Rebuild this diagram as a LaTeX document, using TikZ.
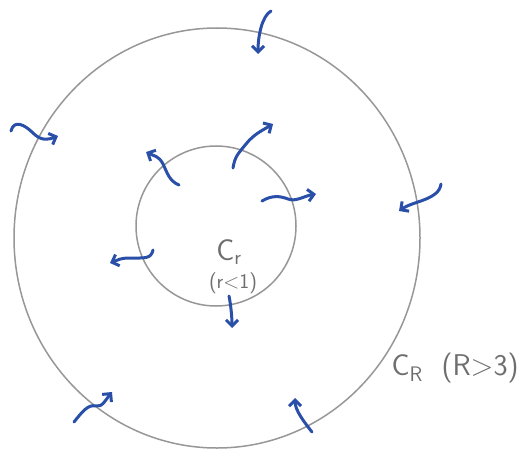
\documentclass[tikz,border=0pt]{standalone}
\usepackage{tikz}
\usepackage{xcolor}
\usetikzlibrary{arrows.meta,shapes.geometric}
\definecolor{pencil}{HTML}{979797}
\definecolor{graphite}{HTML}{6E6E6E}
\definecolor{ink}{HTML}{2A4FA8}
\tikzset{
  ring/.style={draw=pencil, line width=1.5pt, inner sep=0pt},
  flux/.style={-{Straight Barb[length=6pt,width=12pt]}, line width=3pt, draw=ink, line cap=round, line join=round},
  label/.style={font=\sffamily, text=graphite, align=center}
}
\begin{document}
\begin{tikzpicture}[x=1pt, y=-1pt]
\useasboundingbox (0,0) rectangle (526,457);
\node[ring, ellipse, minimum width=406pt, minimum height=420pt] (outer) at (217,238) {};
\node[ring, circle, minimum size=160pt] (inner) at (216,226) {};
% labels
\node[label, font=\sffamily\fontsize{30}{32}\selectfont] (cr) at (229,252) {C\textsubscript{r}};
\node[label, font=\sffamily\fontsize{21}{24}\selectfont] (crr) at (233,283) {(r<1)};
\node[label, font=\sffamily\fontsize{30}{34}\selectfont, anchor=west] (cR) at (388,368) {C\textsubscript{R}\ \ (R>3)};
% ends of the outer arrows
\coordinate (o1s) at (271,11);  \coordinate (o1e) at (258,54);
\coordinate (o2s) at (11,131);  \coordinate (o2e) at (58,136);
\coordinate (o3s) at (441,184); \coordinate (o3e) at (399,211);
\coordinate (o4s) at (74,422);  \coordinate (o4e) at (112,392);
\coordinate (o5s) at (312,432); \coordinate (o5e) at (295,398);
% ends of the inner arrows
\coordinate (i1s) at (179,185); \coordinate (i1e) at (146,152);
\coordinate (i2s) at (233,168); \coordinate (i2e) at (273,124);
\coordinate (i3s) at (262,201); \coordinate (i3e) at (316,194);
\coordinate (i4s) at (153,250); \coordinate (i4e) at (110,263);
\coordinate (i5s) at (229,296); \coordinate (i5e) at (232,328);
% flux in through C_R
\draw[flux] (o1s) .. controls +(-9,5) and +(0,-18) .. (o1e);
\draw[flux] (o2s) .. controls +(3,-12) and +(-8,-8) .. (33,133) .. controls +(8,8) and +(-10,4) .. (o2e);
\draw[flux] (o3s) .. controls +(-2,16) and +(14,-10) .. (o3e);
\draw[flux] (o4s) .. controls +(8,-10) and +(-8,-2) .. (96,406) .. controls +(6,2) and +(-5,6) .. (o4e);
\draw[flux] (o5s) .. controls +(-8,-10) and +(0,12) .. (o5e);
% flux out through C_r
\draw[flux] (i1s) .. controls +(-10,-4) and +(4,8) .. (163,164) .. controls +(-4,-8) and +(8,4) .. (i1e);
\draw[flux] (i2s) .. controls +(2,-12) and +(-8,10) .. (246,144) .. controls +(8,-10) and +(-10,6) .. (i2e);
\draw[flux] (i3s) .. controls +(10,-6) and +(-8,-3) .. (288,199) .. controls +(8,3) and +(-12,2) .. (i3e);
\draw[flux] (i4s) .. controls +(-2,9) and +(15,0) .. (130,258) .. controls +(-10,0) and +(8,-3) .. (i4e);
\draw[flux] (i5s) .. controls +(2,10) and +(0,-10) .. (i5e);
\end{tikzpicture}
\end{document}
